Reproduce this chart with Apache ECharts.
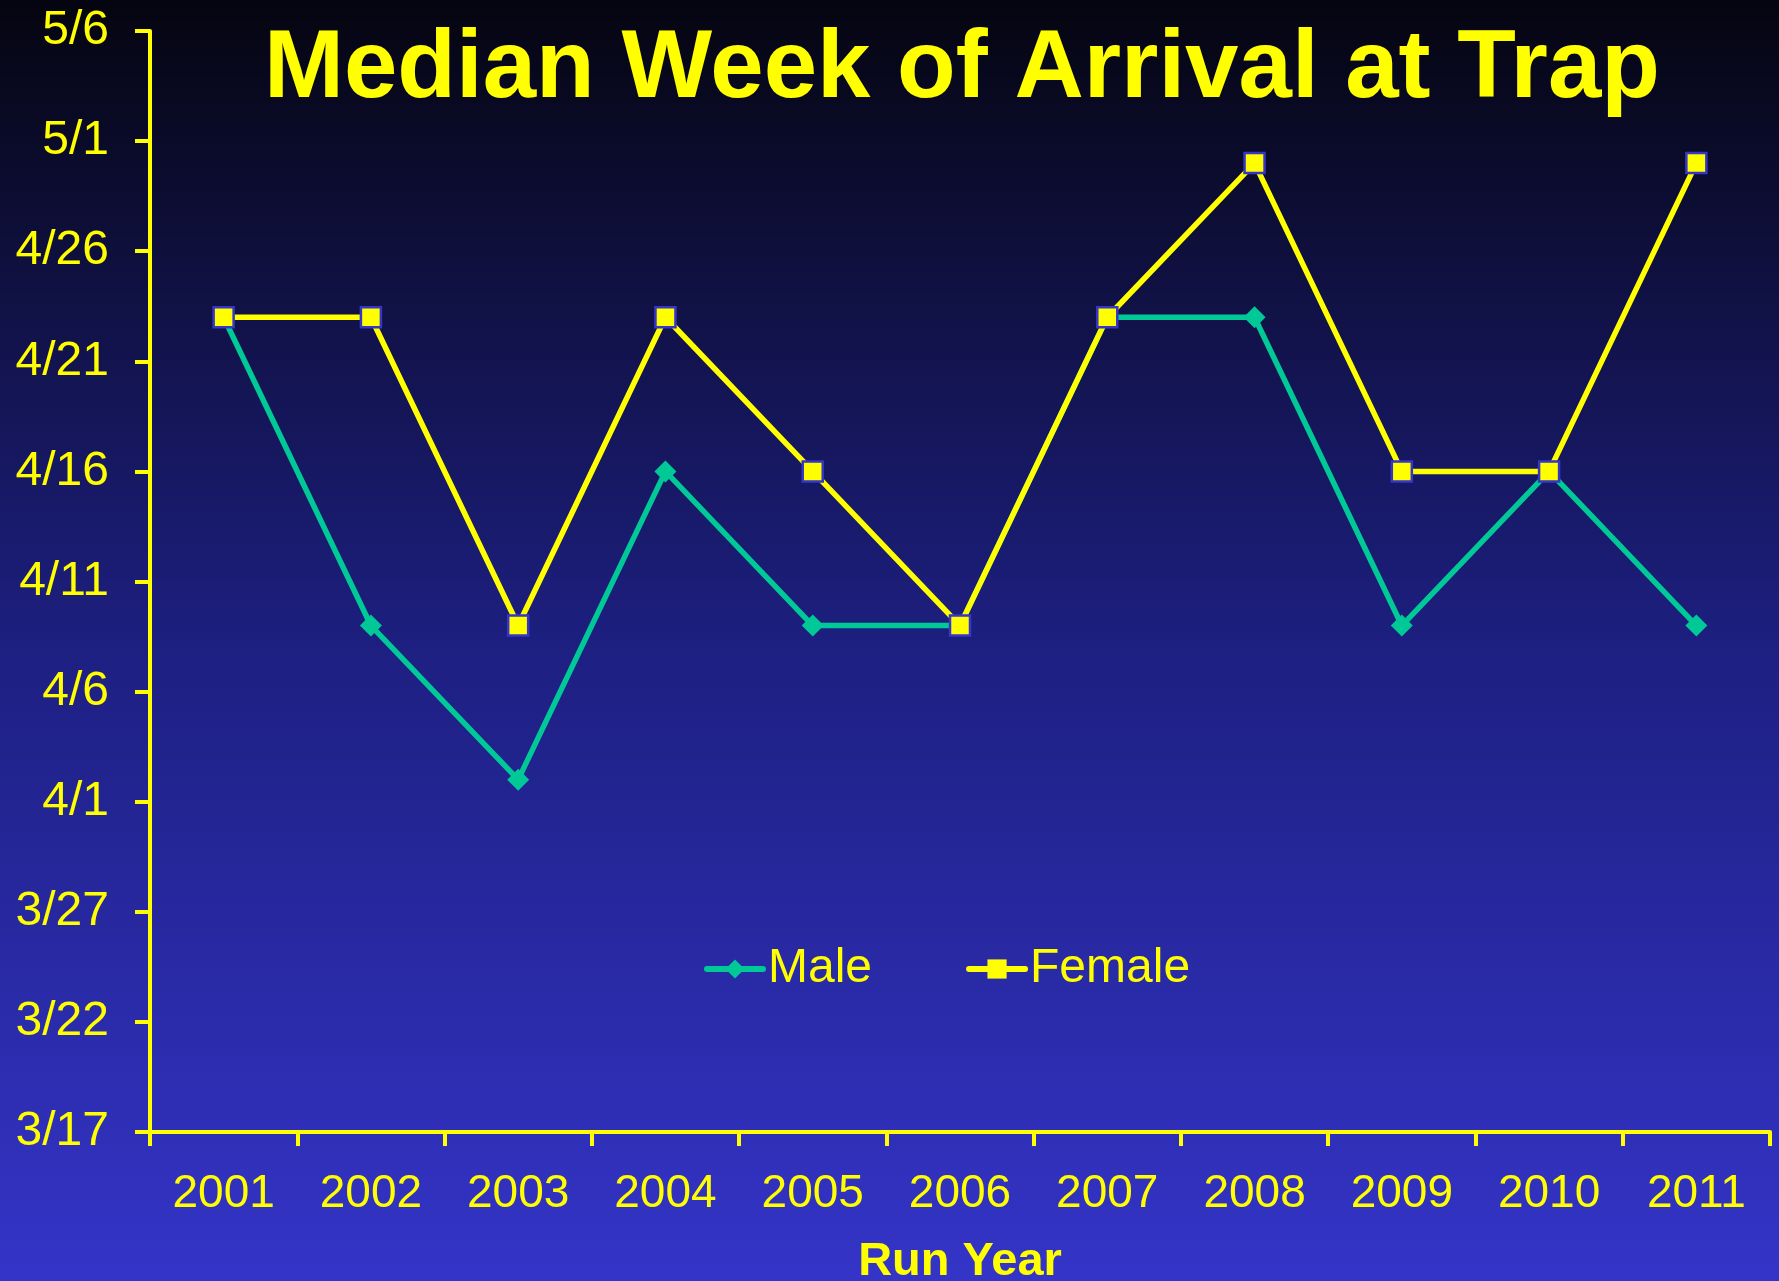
<!DOCTYPE html>
<html lang="en">
  <head>
    <meta charset="UTF-8" />
    <title>Median Week of Arrival at Trap</title>
    <style>
      html, body { margin: 0; padding: 0; }
      #main { width: 1779px; height: 1281px; }
    </style>
  </head>
  <body>
    <div id="main"></div>

    <script src="https://cdn.jsdelivr.net/npm/echarts@6/dist/echarts.min.js"></script>
    <script>
      var myChart = echarts.init(document.getElementById("main"), null, {
        renderer: "canvas",
      });

      // data
      var years = ["2001", "2002", "2003", "2004", "2005", "2006", "2007", "2008", "2009", "2010", "2011"];
      var maleDates = ["4/23", "4/9", "4/2", "4/16", "4/9", "4/9", "4/23", "4/23", "4/9", "4/16", "4/9"];
      var femaleDates = ["4/23", "4/23", "4/9", "4/23", "4/16", "4/9", "4/23", "4/30", "4/16", "4/16", "4/30"];
      var yTickLabels = ["3/17", "3/22", "3/27", "4/1", "4/6", "4/11", "4/16", "4/21", "4/26", "5/1", "5/6"];

      // days since 3/17
      function dayOffset(s) {
        var p = s.split("/");
        var m = +p[0], d = +p[1];
        var monthStart = { 3: 0, 4: 31, 5: 61 };
        return monthStart[m] + d - 17;
      }

      var yellow = "#FFFF00";
      var teal = "#00C896";
      var font = "'Liberation Sans', Arial, sans-serif";

      var option = {
        backgroundColor: new echarts.graphic.LinearGradient(0, 0, 0, 1, [
          { offset: 0, color: "#050510" },
          { offset: 0.5, color: "#1d1f80" },
          { offset: 1, color: "#3434c8" },
        ]),
        textStyle: { fontFamily: font },
        title: {
          text: "Median Week of Arrival at Trap",
          left: 259,
          top: 18,
          textStyle: {
            color: yellow,
            fontSize: 96,
            fontWeight: "bold",
            fontFamily: font,
          },
        },
        legend: {
          left: 699,
          top: 940,
          itemWidth: 56,
          itemHeight: 24,
          itemGap: 94,
          lineStyle: { width: 6, cap: "round" },
          textStyle: { color: yellow, fontSize: 48, fontFamily: font },
          data: [
            { name: "Male" },
            { name: "Female", itemStyle: { borderWidth: 0 } },
          ],
        },
        grid: {
          left: 150,
          right: 9,
          top: 31,
          bottom: 149,
          outerBoundsMode: "none",
          containLabel: false,
        },
        xAxis: {
          type: "category",
          data: years,
          boundaryGap: true,
          name: "Run Year",
          nameLocation: "middle",
          nameGap: 107,
          nameTextStyle: {
            color: yellow,
            fontSize: 47,
            fontWeight: "bold",
            fontFamily: font,
          },
          axisLine: { lineStyle: { color: yellow, width: 4 } },
          axisTick: { show: true, length: 14, lineStyle: { color: yellow, width: 4 } },
          axisLabel: { color: yellow, fontSize: 46, margin: 39, fontFamily: font },
          splitLine: { show: false },
        },
        yAxis: {
          type: "value",
          min: 0,
          max: 50,
          interval: 5,
          axisLine: { show: true, lineStyle: { color: yellow, width: 4 } },
          axisTick: { show: true, length: 15, lineStyle: { color: yellow, width: 4 } },
          axisLabel: {
            color: yellow,
            fontSize: 48,
            margin: 41,
            fontFamily: font,
            formatter: function (v) {
              return yTickLabels[Math.round(v / 5)];
            },
          },
          splitLine: { show: false },
        },
        series: [
          {
            name: "Male",
            type: "line",
            data: maleDates.map(dayOffset),
            symbol: "diamond",
            symbolSize: 22,
            lineStyle: { color: teal, width: 5.5 },
            itemStyle: { color: teal },
            z: 2,
          },
          {
            name: "Female",
            type: "line",
            data: femaleDates.map(dayOffset),
            symbol: "rect",
            symbolSize: 20,
            lineStyle: { color: yellow, width: 5.5 },
            itemStyle: { color: yellow, borderColor: "#3535c8", borderWidth: 2.5 },
            z: 3,
          },
        ],
      };
      myChart.setOption(option);
    </script>
  </body>
</html>
